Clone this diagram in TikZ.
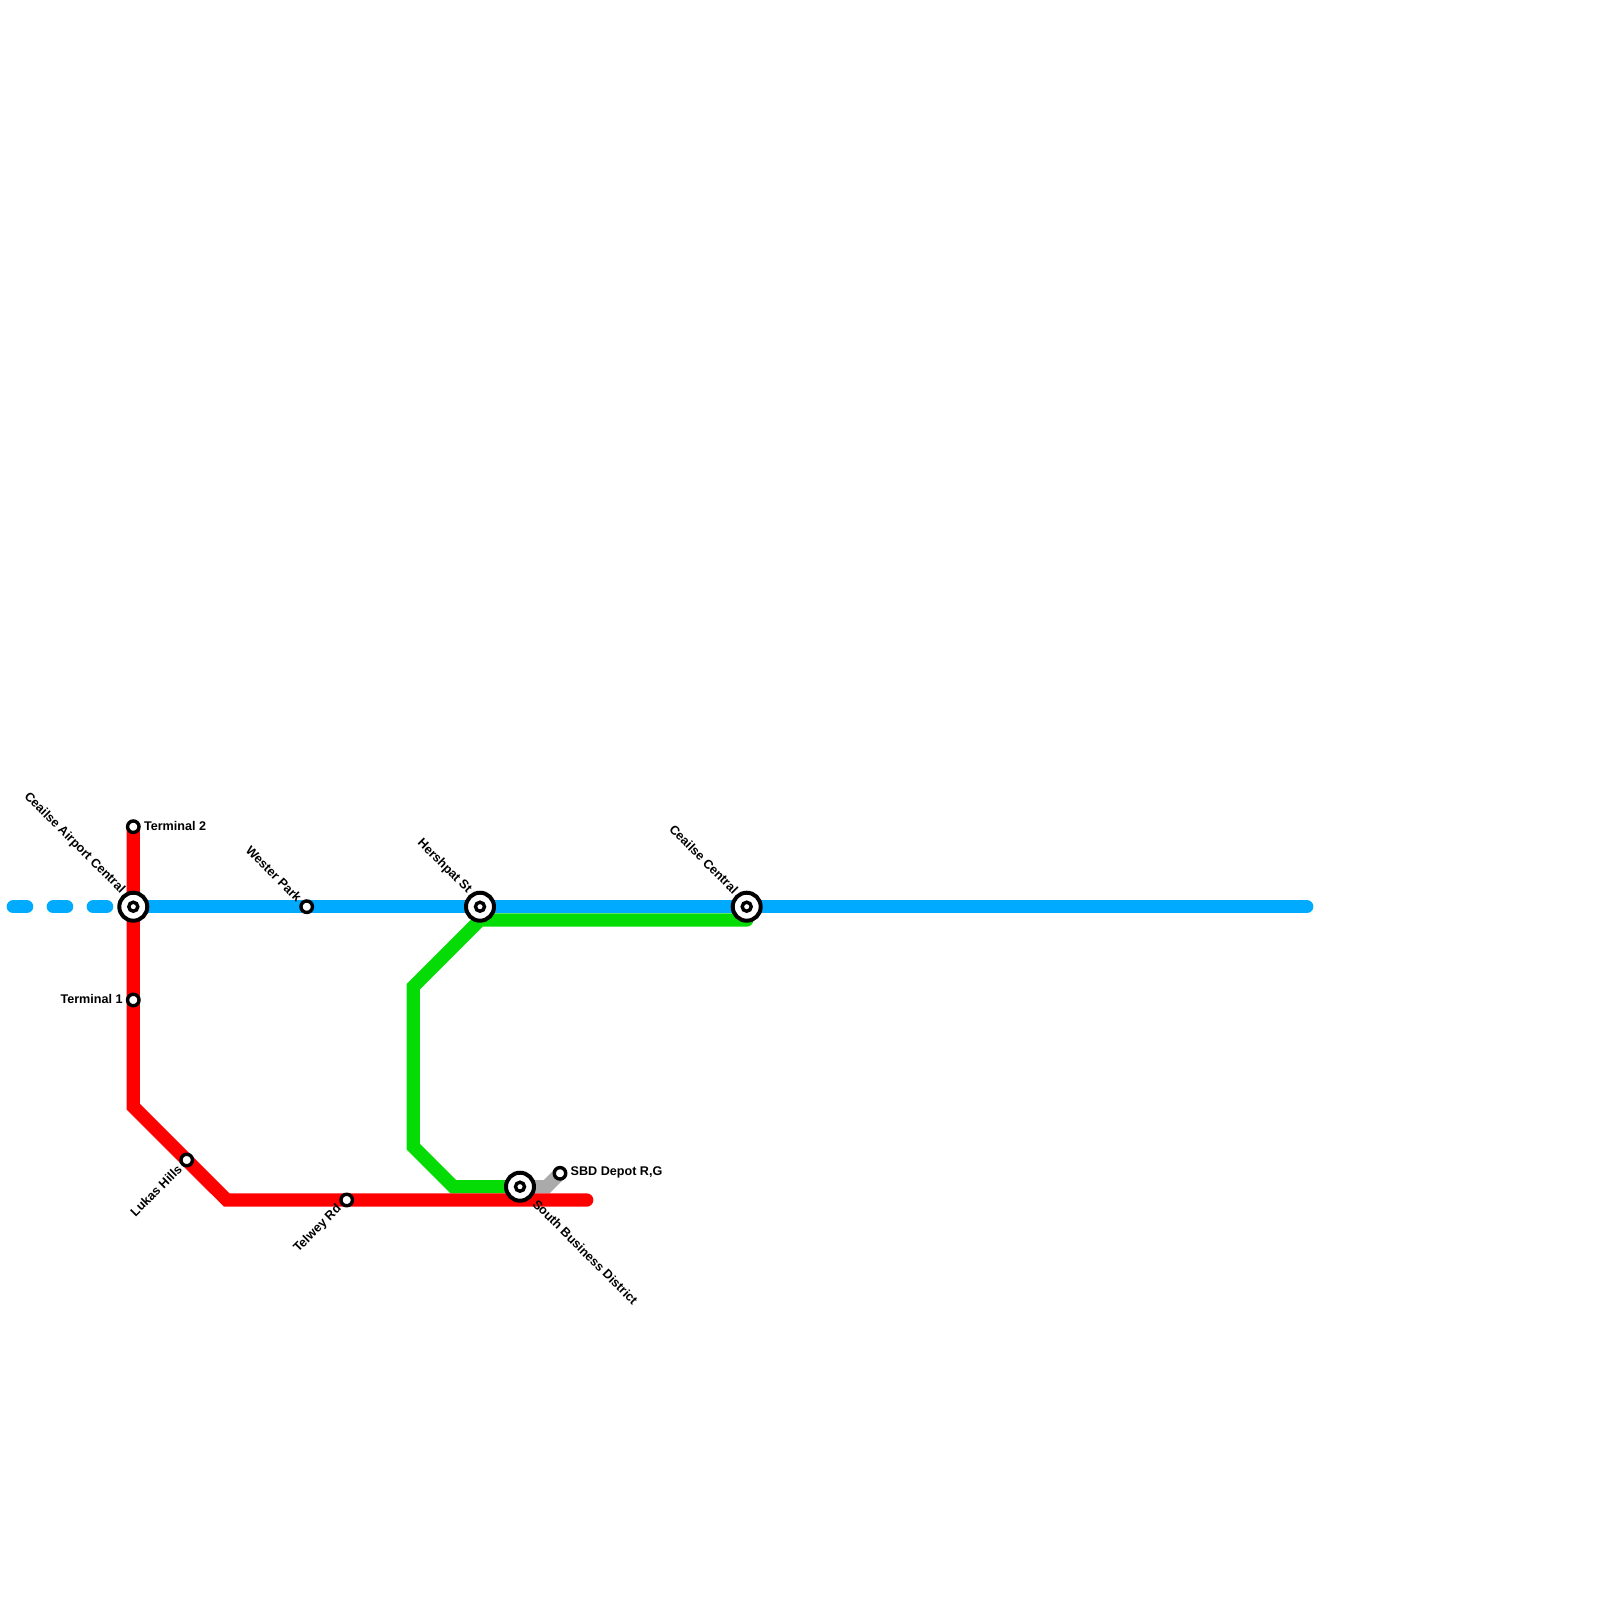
\documentclass[tikz,border=0pt]{standalone}
\usepackage{fontspec}
\setmainfont{Liberation Sans}
\usepackage{xcolor}
\usetikzlibrary{calc}
\definecolor{lineblue}{HTML}{00AAFF}
\definecolor{linered}{HTML}{FF0000}
\definecolor{linegreen}{HTML}{05DC05}
\definecolor{linegrey}{HTML}{AAAAAA}
\tikzset{
	route/.style={line width=13.33pt,line cap=round,miter limit=4},
	stop/.style={circle,draw=black,fill=white,line width=3.4pt,minimum size=11.5pt,inner sep=0pt},
	hubring/.style={circle,draw=black,fill=white,line width=4pt,minimum size=28pt,inner sep=0pt},
	hubcore/.style={circle,draw=black,fill=white,line width=3.4pt,minimum size=9pt,inner sep=0pt},
	stoplabel/.style={inner sep=0pt,font=\fontsize{12.6}{14}\selectfont\bfseries}
}
\begin{document}
\begin{tikzpicture}[x=1pt,y=-1pt]
		\useasboundingbox (0,0) rectangle (1600,1600);
		\coordinate (T2) at (133.3,826.7);
		\coordinate (AC) at (133.3,906.7);
		\coordinate (T1) at (133.3,1000);
		\coordinate (RA) at (133.3,1106.7);
		\coordinate (LH) at (186.7,1160);
		\coordinate (RB) at (226.7,1200);
		\coordinate (TR) at (346.7,1200);
		\coordinate (RE) at (586.7,1200);
		\coordinate (WP) at (306.7,906.7);
		\coordinate (HS) at (480,906.7);
		\coordinate (CC) at (746.7,906.7);
		\coordinate (BE) at (1306.7,906.7);
		\coordinate (BW) at (13.3,906.7);
		\coordinate (GA) at (746.7,920);
		\coordinate (GB) at (480,920);
		\coordinate (GC) at (413.3,986.7);
		\coordinate (GD) at (413.3,1146.7);
		\coordinate (GE) at (453.3,1186.7);
		\coordinate (SB) at (520,1186.7);
		\coordinate (GF) at (546.7,1186.7);
		\coordinate (SD) at (560,1173.3);
		% lines
		\draw[route,linegrey] (SB)--(GF)--(SD);
		\draw[route,lineblue] (AC)--(BE);
		\draw[route,lineblue,dash pattern=on 13.33pt off 26.67pt] (BW)--(AC);
		\draw[route,linegreen] (GA)--(GB)--(GC)--(GD)--(GE)--(SB);
		\draw[route,linered] (T2)--(RA)--(RB)--(RE);
		% stations
		\node[stop] (termtwo) at (T2) {};
		\node[stop] (termone) at (T1) {};
		\node[stop] (wester) at (WP) {};
		\node[stop] (lukas) at (LH) {};
		\node[stop] (telwey) at (TR) {};
		\node[stop] (depot) at (SD) {};
		\foreach \hub/\pos in {airport/AC,hershpat/HS,central/CC,south/SB}{
			\node[hubring] (\hub) at (\pos) {};
			\node[hubcore] (\hub core) at (\pos) {};
		}
		% labels
		\node[stoplabel,anchor=west] (termtwolabel) at ($(T2)+(10.5,-0.8)$) {Terminal 2};
		\node[stoplabel,anchor=east] (termonelabel) at ($(T1)+(-10.5,-0.8)$) {Terminal 1};
		\node[stoplabel,anchor=west] (depotlabel) at ($(SD)+(10.5,-0.8)$) {SBD Depot R,G};
		\node[stoplabel,anchor=east,rotate=-45] (airportlabel) at ($(AC)+(-10.5,-15)$) {Ceailse Airport Central};
		\node[stoplabel,anchor=east,rotate=-45] (westerlabel) at ($(WP)+(-7,-7)$) {Wester Park};
		\node[stoplabel,anchor=east,rotate=-45] (hershpatlabel) at ($(HS)+(-10.5,-15)$) {Hershpat St};
		\node[stoplabel,anchor=east,rotate=-45] (centrallabel) at ($(CC)+(-10.5,-15)$) {Ceailse Central};
		\node[stoplabel,anchor=east,rotate=45] (lukaslabel) at ($(LH)+(-7,7)$) {Lukas Hills};
		\node[stoplabel,anchor=east,rotate=45] (telweylabel) at ($(TR)+(-7,7)$) {Telwey Rd};
		\node[stoplabel,anchor=west,rotate=-45] (southlabel) at ($(SB)+(15,15)$) {South Business District};
	\end{tikzpicture}
\end{document}
